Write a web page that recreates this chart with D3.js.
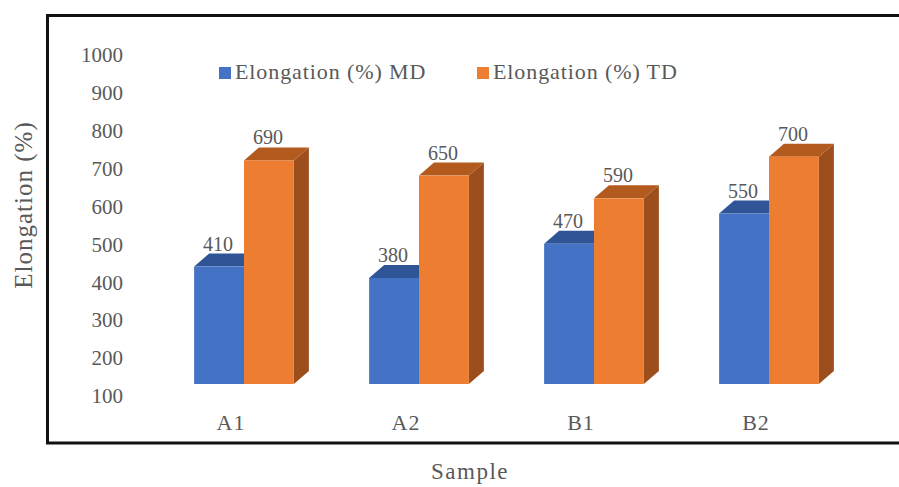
<!DOCTYPE html>
<html>
<head>
<meta charset="utf-8">
<script src="https://cdn.jsdelivr.net/npm/d3@7"></script>
<style>
  html, body { margin: 0; padding: 0; background: #fff; }
  svg { display: block; }
  text { font-family: "Liberation Serif", "Times New Roman", "DejaVu Serif", serif; fill: #595959; }
</style>
</head>
<body>
<svg id="chart" width="899" height="487"></svg>
<script>
// Elongation of film samples, machine direction (MD) vs transverse direction (TD)
const samples = ["A1", "A2", "B1", "B2"];
const seriesNames = ["Elongation (%) MD", "Elongation (%) TD"];
const mdValues = [410, 380, 470, 550];
const tdValues = [690, 650, 590, 700];
const yTicks = [100, 200, 300, 400, 500, 600, 700, 800, 900, 1000];

const frontColors = ["#4472C4", "#ED7D31"];
const topColors = ["#2F5597", "#B35A1F"];
const sideColors = ["#2A4C86", "#9C4F1C"];

const svg = d3.select("#chart");

// 3D depth offset of the bars
const depthX = 15, depthY = -13;

// value scale for the front faces of the bars
const y = d3.scaleLinear().domain([100, 1000]).range([384, 43]);

// category bands, two bars per band
const x = d3.scaleBand().domain(samples).range([156.5, 856.5]).paddingInner(0.43).paddingOuter(0.215);
const xs = d3.scaleBand().domain(seriesNames).range([0, x.bandwidth()]);

// outer frame
svg.append("rect")
  .attr("x", 47.5).attr("y", 15.5)
  .attr("width", 900).attr("height", 427.5)
  .attr("fill", "none").attr("stroke", "#111").attr("stroke-width", 3);

// value axis labels (drawn slightly below the front plane)
const axisG = svg.append("g")
  .attr("transform", "translate(123,12)")
  .call(d3.axisLeft(y).tickValues(yTicks).tickSize(0).tickPadding(0).tickFormat(d3.format("d")));
axisG.attr("font-family", null);
axisG.select(".domain").remove();
axisG.selectAll("text")
  .attr("font-size", 21)
  .attr("fill", "#595959");

// bars
const rows = samples.map((s, i) => ({ sample: s, values: [mdValues[i], tdValues[i]] }));
const barData = [];
rows.forEach(r => r.values.forEach((v, k) => barData.push({ sample: r.sample, k, series: seriesNames[k], value: v })));

const bars = svg.append("g").selectAll("g.bar").data(barData).join("g").attr("class", "bar");

bars.each(function(d) {
  const g = d3.select(this);
  const x0 = x(d.sample) + xs(d.series);
  const x1 = x0 + xs.bandwidth();
  const yt = y(d.value), yb = y(100);
  // side face
  g.append("path")
    .attr("d", `M${x1},${yt} L${x1 + depthX},${yt + depthY} L${x1 + depthX},${yb + depthY} L${x1},${yb} Z`)
    .attr("fill", sideColors[d.k]);
  // top face
  g.append("path")
    .attr("d", `M${x0},${yt} L${x0 + depthX},${yt + depthY} L${x1 + depthX},${yt + depthY} L${x1},${yt} Z`)
    .attr("fill", topColors[d.k]);
  // front face
  g.append("rect")
    .attr("x", x0).attr("y", yt)
    .attr("width", x1 - x0).attr("height", yb - yt)
    .attr("fill", frontColors[d.k]);
});

// value labels
svg.append("g").selectAll("text").data(barData).join("text")
  .attr("x", d => x(d.sample) + xs(d.series) + xs.bandwidth() / 2 - 1)
  .attr("y", d => y(d.value) - 16)
  .attr("text-anchor", "middle")
  .attr("font-size", 20)
  .text(d => d.value);

// category labels
svg.append("g").selectAll("text").data(samples).join("text")
  .attr("x", d => x(d) + x.bandwidth() / 2 - 13)
  .attr("y", 430)
  .attr("text-anchor", "middle")
  .attr("font-size", 22)
  .attr("letter-spacing", 1)
  .text(d => d);

// axis titles
svg.append("text")
  .attr("transform", "translate(32,205) rotate(-90)")
  .attr("text-anchor", "middle")
  .attr("font-size", 25)
  .attr("letter-spacing", 1)
  .text("Elongation (%)");

svg.append("text")
  .attr("x", 470).attr("y", 479)
  .attr("text-anchor", "middle")
  .attr("font-size", 23)
  .attr("letter-spacing", 1.5)
  .text("Sample");

// legend
const legendX = [219, 477];
const legend = svg.append("g").selectAll("g").data(seriesNames).join("g")
  .attr("transform", (d, i) => `translate(${legendX[i]},0)`);
legend.append("rect")
  .attr("x", 0).attr("y", 67).attr("width", 12).attr("height", 12)
  .attr("fill", (d, i) => frontColors[i]);
legend.append("text")
  .attr("x", 16).attr("y", 79)
  .attr("font-size", 22)
  .attr("letter-spacing", 0.9)
  .text(d => d);
</script>
</body>
</html>
